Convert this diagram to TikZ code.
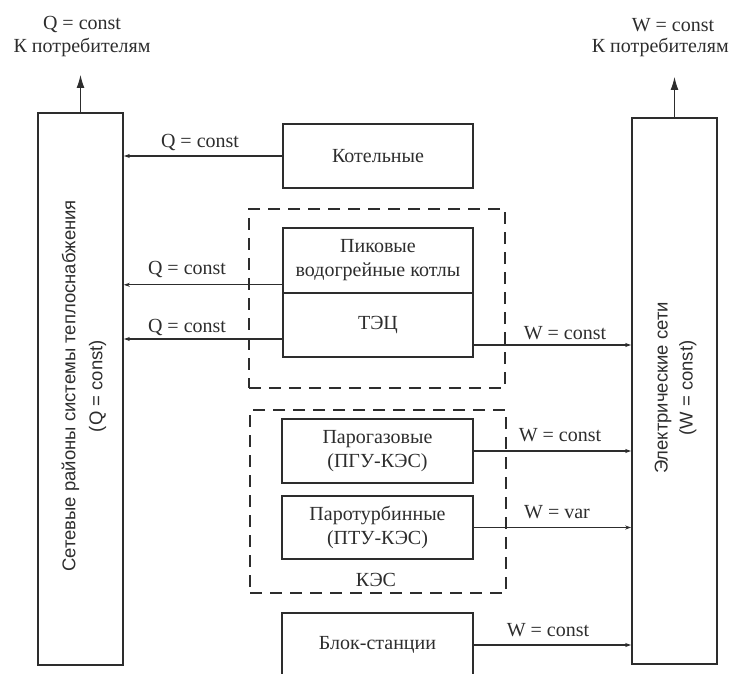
\documentclass[tikz,border=0pt]{standalone}
\usepackage{fontspec}
\setmainfont{Liberation Serif}
\setsansfont{Liberation Sans}
\usetikzlibrary{arrows.meta}
\definecolor{ink}{RGB}{45,45,45}
\begin{document}
\begin{tikzpicture}[x=1pt,y=-1pt,
  every node/.style={text=ink, font=\fontsize{20}{24}\selectfont},
  box/.style={draw=ink, line width=1.6pt, rectangle, inner sep=0pt, align=center},
  grp/.style={draw=ink, line width=1.7pt, dash pattern=on 12pt off 8pt, rectangle, inner sep=0pt},
  flow/.style={draw=ink, line width=1.1pt, -{Stealth[length=6pt,width=4pt]}},
  uparrow/.style={draw=ink, line width=1.1pt, -{Latex[length=13pt,width=8pt]}},
  lbl/.style={inner sep=1pt},
  sidetext/.style={font=\sffamily\fontsize{18.5}{27}\selectfont, rotate=90, align=center, inner sep=0pt}
]
\useasboundingbox (0,0) rectangle (729,674);
\clip (0,0) rectangle (729,674);

% side boxes
\node[box, minimum width=85, minimum height=552] (heat) at (80.5,389) {};
\node[sidetext] (heattxt) at (84,386) {Сетевые районы системы теплоснабжения\\(Q = const)};
\node[box, minimum width=85, minimum height=546] (elec) at (674.5,391) {};
\node[sidetext, font=\sffamily\fontsize{18.5}{25}\selectfont] (electxt) at (675.5,388) {Электрические сети\\(W = const)};

% groups
\node[grp, minimum width=256, minimum height=179] (grpT) at (377,298.5) {};
\node[grp, minimum width=256, minimum height=183] (grpK) at (378,501.5) {};
\node (kes) at (376,580) {КЭС};

% plants
\node[box, minimum width=190, minimum height=64] (kot) at (378,156) {Котельные};
\node[box, minimum width=190, minimum height=65] (pik) at (378,260.5) {Пиковые\\водогрейные котлы};
\node[box, minimum width=190, minimum height=64] (tec) at (378,325) {ТЭЦ};
\node[box, minimum width=191, minimum height=64] (pgu) at (377.5,451) {Парогазовые\\(ПГУ-КЭС)};
\node[box, minimum width=191, minimum height=63] (ptu) at (377.5,527.5) {Паротурбинные\\(ПТУ-КЭС)};
\node[box, minimum width=191, minimum height=64] (blk) at (377.5,645) {Блок-станции};

% heat flows
\draw[flow] (kot.west) -- (kot.west -| heat.east);
\draw[flow] ([yshift=9pt]pik.south west) -- ([yshift=9pt]pik.south west -| heat.east);
\draw[flow] ([yshift=-14pt]tec.west) -- ([yshift=-14pt]tec.west -| heat.east);
\node[lbl] (q1) at (200,143) {Q = const};
\node[lbl] (q2) at (187,269) {Q = const};
\node[lbl] (q3) at (187,327) {Q = const};

% power flows
\draw[flow] ([yshift=-20pt]tec.east) -- ([yshift=-20pt]tec.east -| elec.west);
\draw[flow] (pgu.east) -- (pgu.east -| elec.west);
\draw[flow] (ptu.east) -- (ptu.east -| elec.west);
\draw[flow] (blk.east) -- (blk.east -| elec.west);
\node[lbl] (w0) at (565,333) {W = const};
\node[lbl] (w1) at (560,435) {W = const};
\node[lbl] (w2) at (557,512) {W = var};
\node[lbl] (w3) at (548,630) {W = const};

% consumers
\coordinate (qtip) at (81,75);
\coordinate (wtip) at (674,77);
\draw[uparrow] (heat.north) -- (heat.north |- qtip);
\draw[uparrow] (elec.north) -- (elec.north |- wtip);
\node (qc) at (82,25) {Q = const};
\node (qk) at (82,47) {К потребителям};
\node (wc) at (673,25) {W = const};
\node[anchor=east, inner sep=0pt] (wk) at (729,47) {К потребителям};
\end{tikzpicture}
\end{document}
